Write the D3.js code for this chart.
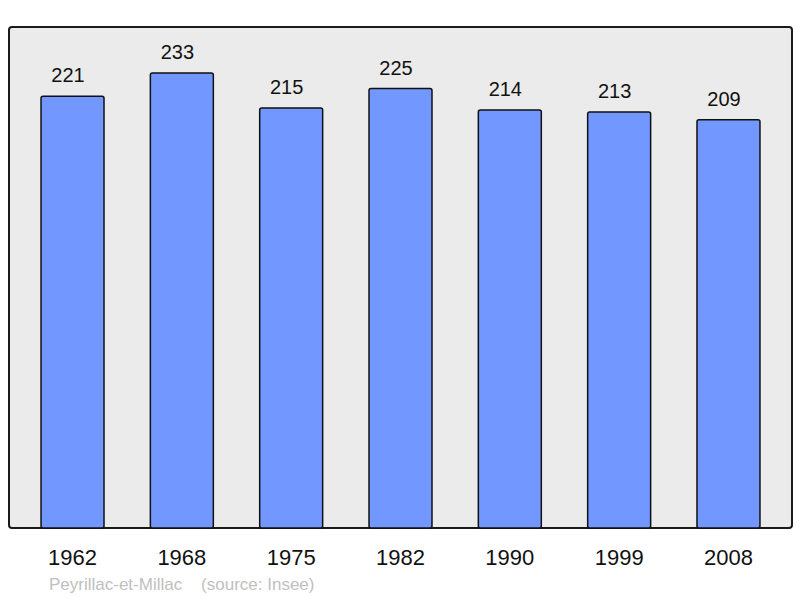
<!DOCTYPE html>
<html>
<head>
<meta charset="utf-8">
<script src="https://cdn.jsdelivr.net/npm/d3@7"></script>
<style>
  body { margin: 0; background: #fff; }
  svg { display: block; font-family: "Liberation Sans", Arial, sans-serif; }
</style>
</head>
<body>
<div id="chart"></div>
<script>
// Population data (Insee)
const years = ["1962", "1968", "1975", "1982", "1990", "1999", "2008"];
const population = [221, 233, 215, 225, 214, 213, 209];
const commune = "Peyrillac-et-Millac";
const source = "(source: Insee)";

const width = 800;
const height = 598;
const plot = { left: 9, top: 27, right: 792, bottom: 528 };

const svg = d3.select("#chart")
    .append("svg")
    .attr("width", width)
    .attr("height", height);

// Scales
const x = d3.scaleBand()
    .domain(years)
    .range([plot.left, plot.right])
    .paddingInner(0.424)
    .paddingOuter(0.293);

const y = d3.scaleLinear()
    .domain([0, 256.5])
    .range([plot.bottom, plot.top]);

// Plot background
svg.append("rect")
    .attr("x", plot.left)
    .attr("y", plot.top)
    .attr("width", plot.right - plot.left)
    .attr("height", plot.bottom - plot.top)
    .attr("rx", 3)
    .attr("fill", "#ebebeb")
    .attr("stroke", "#1a1a1a")
    .attr("stroke-width", 2);

const data = years.map((yr, i) => ({ year: yr, value: population[i] }));

// Bars
svg.selectAll("rect.bar")
    .data(data)
    .enter()
    .append("rect")
    .attr("class", "bar")
    .attr("x", d => x(d.year))
    .attr("y", d => y(d.value))
    .attr("width", x.bandwidth())
    .attr("height", d => y(0) - y(d.value))
    .attr("rx", 2)
    .attr("fill", "#7297ff")
    .attr("stroke", "#111")
    .attr("stroke-width", 1.5);

// Value labels (sit slightly left of the bar centre, as in the original)
svg.selectAll("text.value")
    .data(data)
    .enter()
    .append("text")
    .attr("class", "value")
    .attr("x", d => x(d.year) + x.bandwidth() / 2 - 4.5)
    .attr("y", d => y(d.value) - 14)
    .attr("text-anchor", "middle")
    .style("font-size", "20px")
    .attr("fill", "#111")
    .text(d => d.value);

// Year axis (labels only)
const xAxis = svg.append("g")
    .attr("transform", `translate(0,${plot.bottom})`)
    .call(d3.axisBottom(x).tickSize(0).tickPadding(0));
xAxis.select(".domain").remove();
xAxis.selectAll("text")
    .attr("dy", null)
    .attr("y", 37)
    .style("font-family", "Liberation Sans, Arial, sans-serif")
    .style("font-size", "22px")
    .attr("fill", "#111");

// Source line
svg.append("text")
    .attr("x", 49)
    .attr("y", 590)
    .style("font-size", "17px")
    .attr("fill", "#c0c0c0")
    .attr("xml:space", "preserve")
    .text(commune + "    " + source);
</script>
</body>
</html>
